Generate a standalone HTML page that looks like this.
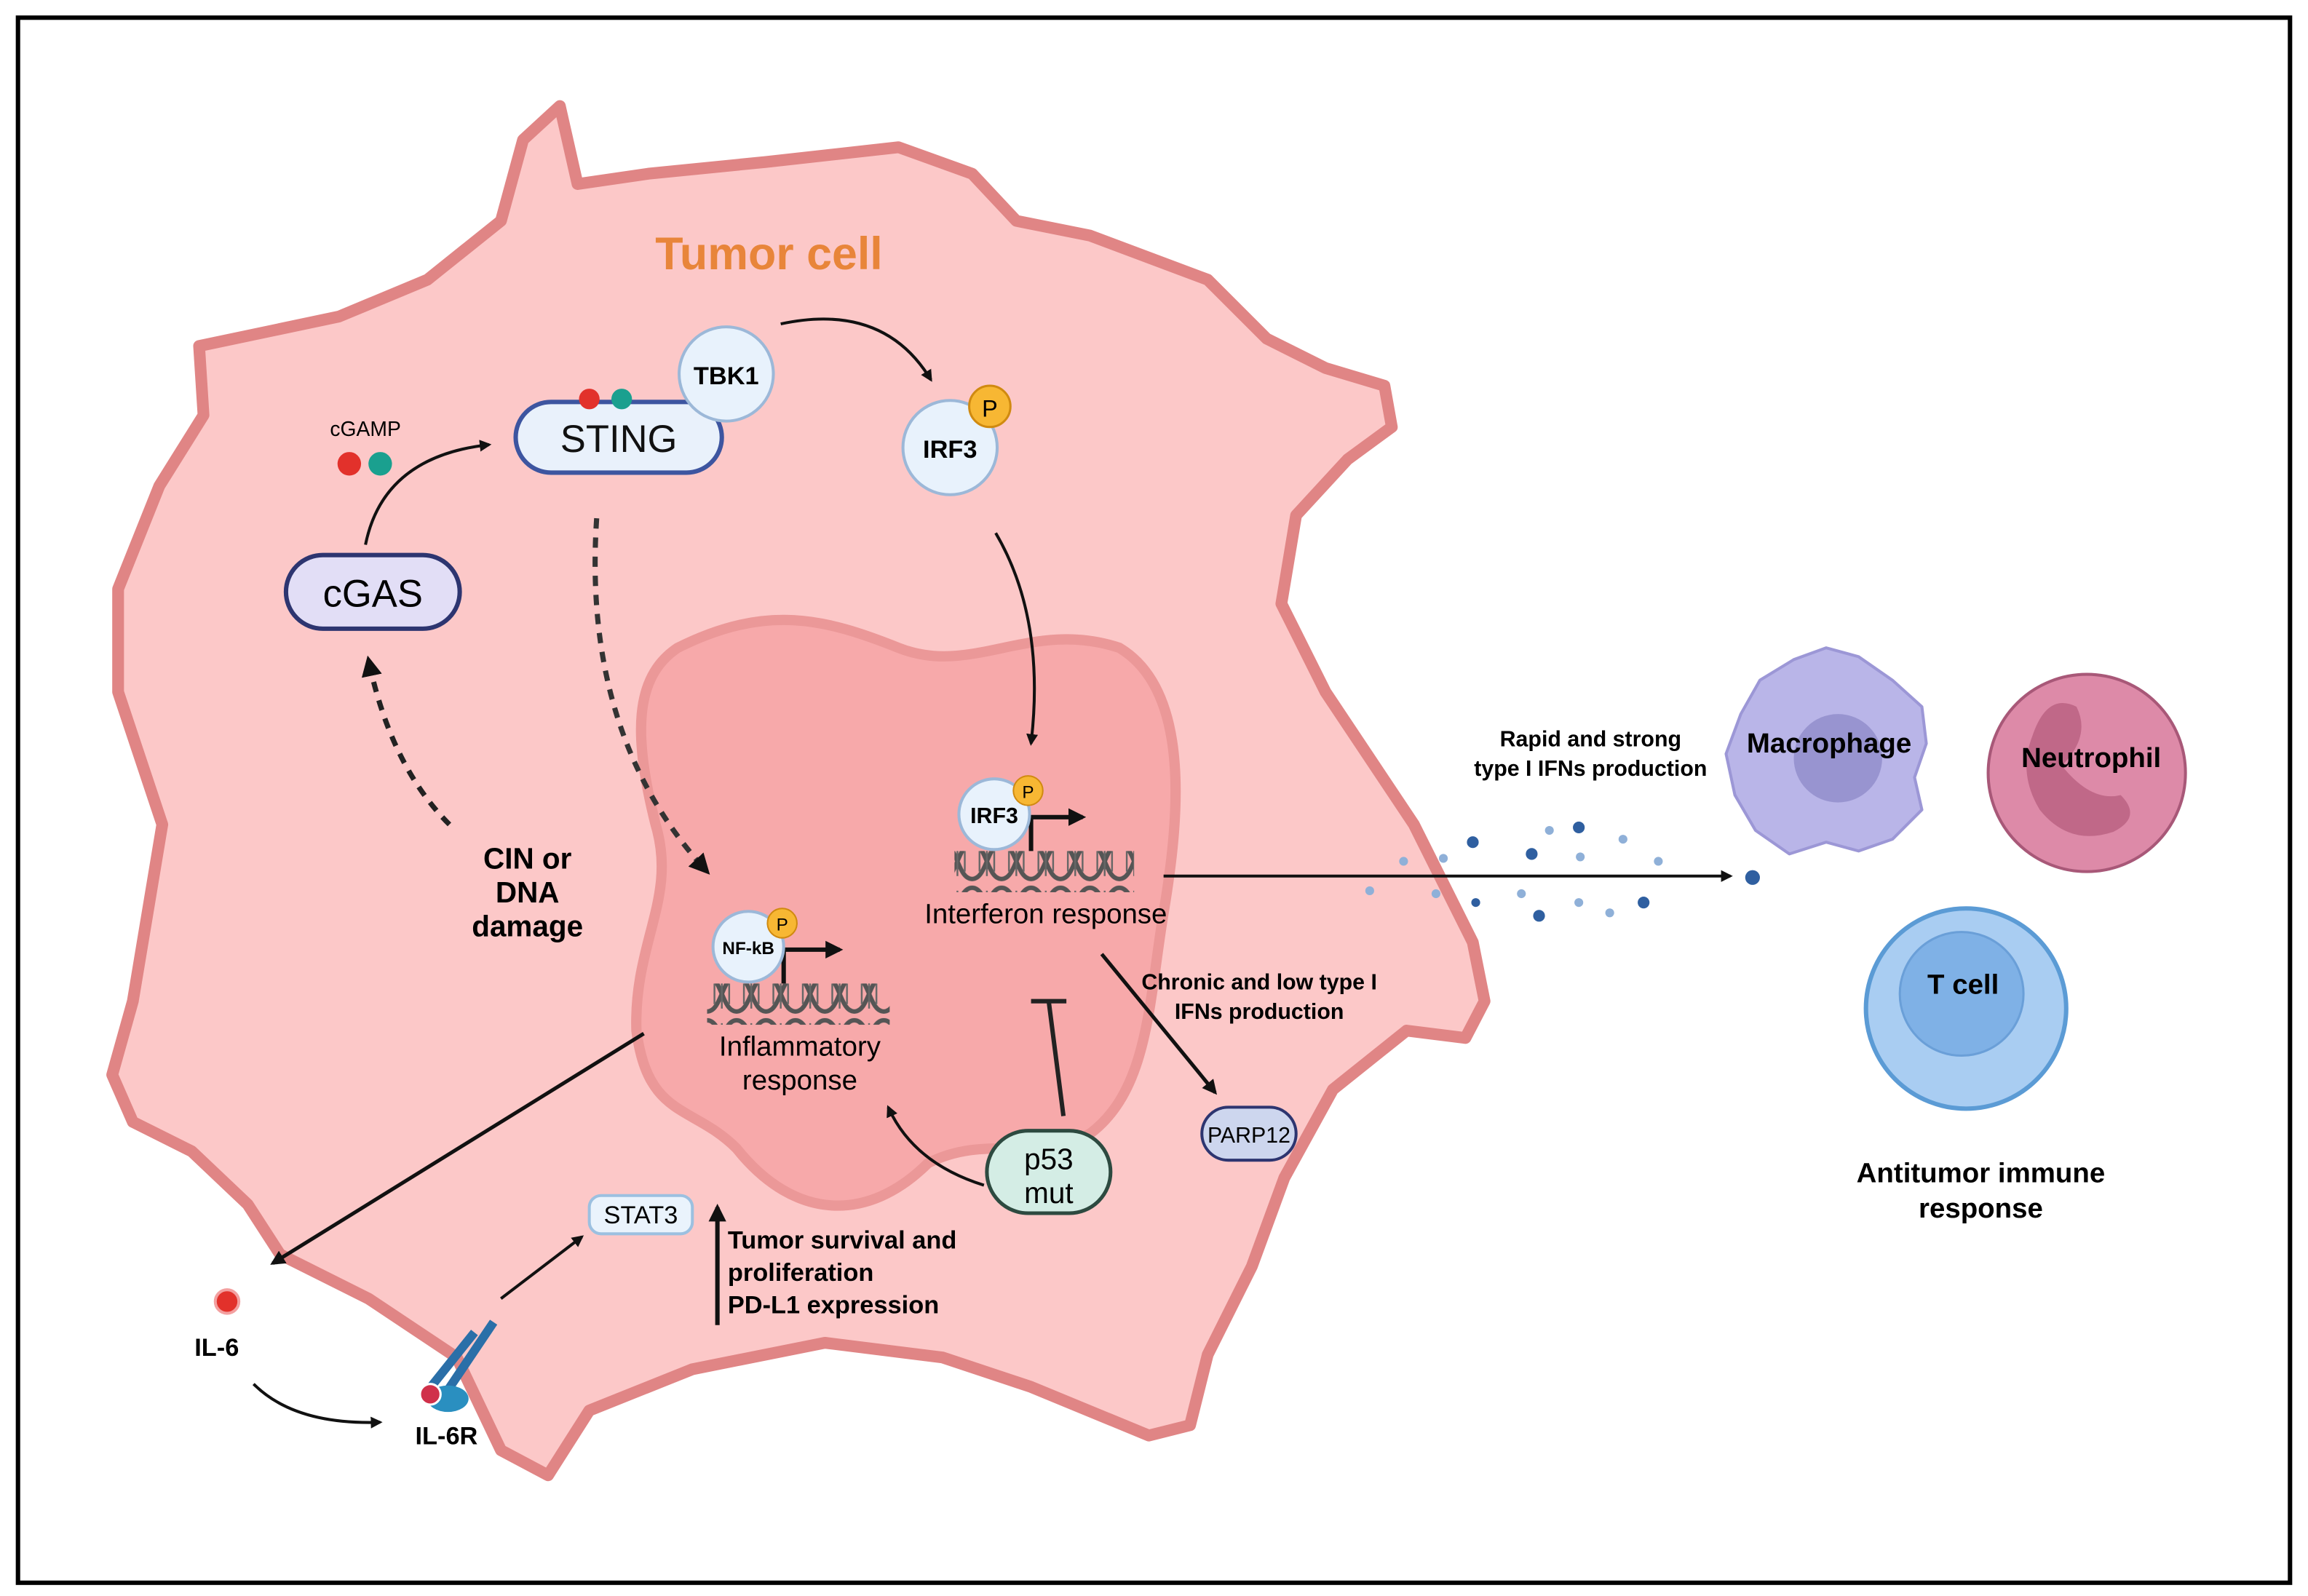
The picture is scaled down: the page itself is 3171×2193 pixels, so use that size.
<!DOCTYPE html>
<html><head><meta charset="utf-8"><style>
html,body{margin:0;padding:0;background:#fff}
svg{display:block}
text{font-family:"Liberation Sans",sans-serif}
</style></head><body>
<svg width="3171" height="2193" viewBox="0 0 1567 1084" xmlns="http://www.w3.org/2000/svg">
<defs>
<marker id="ah" viewBox="0 0 10 10" refX="8" refY="5" markerWidth="4" markerHeight="4" orient="auto"><path d="M0,0L10,5L0,10z" fill="#111"/></marker>
<marker id="ah2" viewBox="0 0 10 10" refX="8" refY="5" markerWidth="6" markerHeight="6" orient="auto"><path d="M0,0L10,5L0,10z" fill="#111"/></marker>
<pattern id="dna" width="40" height="30" patternUnits="userSpaceOnUse"><path d="M0,3 C10,3 10,27 20,27 C30,27 30,3 40,3" fill="none" stroke="#555" stroke-width="3"/><path d="M0,27 C10,27 10,3 20,3 C30,3 30,27 40,27" fill="none" stroke="#555" stroke-width="3"/><path d="M5,8V22M10,5V25M15,8V22M25,8V22M30,5V25M35,8V22" stroke="#666" stroke-width="1.2"/></pattern>
</defs>
<rect x="0" y="0" width="1567" height="1084" fill="#fff"/>
<rect x="12" y="12" width="1543" height="1063" fill="none" stroke="#000" stroke-width="3"/>
<polygon points="135,235 230,215 290,190 340,150 355,95 380,72 392,125 440,118 520,110 610,100 660,118 690,150 740,160 820,190 860,230 900,250 940,262 945,290 915,312 880,350 870,410 900,470 960,560 1000,640 1008,680 995,705 955,700 905,740 872,800 850,860 820,920 808,968 780,975 700,942 640,922 560,912 470,930 400,958 372,1002 340,985 310,922 250,882 190,852 168,818 130,782 90,762 76,730 90,680 100,620 110,560 80,470 80,400 108,330 138,282" fill="#fcc8c8" stroke="#e08585" stroke-width="8" stroke-linejoin="round"/>
<path d="M460,440 C520,410 560,420 610,440 C660,460 700,420 760,440 C810,470 800,560 790,620 C780,680 780,740 740,770 C700,790 670,770 630,790 C590,830 540,830 500,780 C470,750 440,760 432,700 C430,640 460,610 445,560 C430,500 430,460 460,440 Z" fill="#f7a9aa" stroke="#eb9898" stroke-width="7"/>
<text x="522" y="183" font-size="31" font-weight="bold" fill="#e8853a" text-anchor="middle">Tumor cell</text>
<!-- STING -->
<rect x="350" y="273" width="140" height="48" rx="24" fill="#e9f1fb" stroke="#3d55a0" stroke-width="3"/>
<text x="420" y="307" font-size="26" text-anchor="middle" fill="#111">STING</text>
<circle cx="400" cy="271" r="7" fill="#e2312b"/><circle cx="422" cy="271" r="7" fill="#1aa08f"/>
<circle cx="493" cy="254" r="32" fill="#e8f2fc" stroke="#9cb8d8" stroke-width="2"/>
<text x="493" y="261" font-size="17" font-weight="bold" text-anchor="middle">TBK1</text>
<path d="M530,220 Q600,205 632,258" fill="none" stroke="#111" stroke-width="2" marker-end="url(#ah)"/>
<circle cx="645" cy="304" r="32" fill="#e8f2fc" stroke="#9cb8d8" stroke-width="2"/>
<text x="645" y="311" font-size="17" font-weight="bold" text-anchor="middle">IRF3</text>
<circle cx="672" cy="276" r="14" fill="#f7b733" stroke="#d08a10" stroke-width="1.5"/>
<text x="672" y="283" font-size="16" text-anchor="middle">P</text>
<path d="M676,362 Q710,420 700,505" fill="none" stroke="#111" stroke-width="2" marker-end="url(#ah)"/>
<!-- cGAS -->
<text x="248" y="296" font-size="14" text-anchor="middle">cGAMP</text>
<circle cx="237" cy="315" r="8" fill="#e2312b"/><circle cx="258" cy="315" r="8" fill="#1aa08f"/>
<rect x="194" y="377" width="118" height="50" rx="25" fill="#e2def6" stroke="#2d3570" stroke-width="3"/>
<text x="253" y="412" font-size="26" text-anchor="middle">cGAS</text>
<path d="M248,370 Q260,310 332,302" fill="none" stroke="#111" stroke-width="2" marker-end="url(#ah)"/>
<path d="M305,560 Q265,520 250,448" fill="none" stroke="#222" stroke-width="3.5" stroke-dasharray="7,6" marker-end="url(#ah)"/>
<text x="358" y="590" font-size="20" font-weight="bold" text-anchor="middle">CIN or</text>
<text x="358" y="613" font-size="20" font-weight="bold" text-anchor="middle">DNA</text>
<text x="358" y="636" font-size="20" font-weight="bold" text-anchor="middle">damage</text>
<path d="M405,352 Q395,500 480,592" fill="none" stroke="#333" stroke-width="3.5" stroke-dasharray="7,6" marker-end="url(#ah)"/>
<!-- IRF3 nucleus -->
<rect x="648" y="578" width="122" height="28" fill="url(#dna)"/>
<path d="M700,578V555H735" fill="none" stroke="#111" stroke-width="3" marker-end="url(#ah)"/>
<circle cx="675" cy="553" r="24" fill="#e8f2fc" stroke="#9cb8d8" stroke-width="2"/>
<text x="675" y="559" font-size="15" font-weight="bold" text-anchor="middle">IRF3</text>
<circle cx="698" cy="537" r="10" fill="#f7b733" stroke="#d08a10"/>
<text x="698" y="542" font-size="12" text-anchor="middle">P</text>
<text x="710" y="627" font-size="19" text-anchor="middle">Interferon response</text>
<!-- NF-kB -->
<rect x="480" y="668" width="124" height="28" fill="url(#dna)"/>
<path d="M532,668V645H570" fill="none" stroke="#111" stroke-width="3" marker-end="url(#ah)"/>
<circle cx="508" cy="643" r="24" fill="#e8f2fc" stroke="#9cb8d8" stroke-width="2"/>
<text x="508" y="648" font-size="12" font-weight="bold" text-anchor="middle">NF-kB</text>
<circle cx="531" cy="627" r="10" fill="#f7b733" stroke="#d08a10"/>
<text x="531" y="632" font-size="12" text-anchor="middle">P</text>
<text x="543" y="717" font-size="19" text-anchor="middle">Inflammatory</text>
<text x="543" y="740" font-size="19" text-anchor="middle">response</text>
<!-- p53 -->
<rect x="670" y="768" width="84" height="56" rx="28" fill="#d4ede5" stroke="#2d4a40" stroke-width="2.5"/>
<text x="712" y="794" font-size="20" text-anchor="middle">p53</text>
<text x="712" y="817" font-size="20" text-anchor="middle">mut</text>
<path d="M722,758L712,680M700,680H724" fill="none" stroke="#222" stroke-width="3"/>
<path d="M668,805 Q620,790 603,752" fill="none" stroke="#111" stroke-width="2" marker-end="url(#ah)"/>
<path d="M748,648L825,742" fill="none" stroke="#111" stroke-width="2.5" marker-end="url(#ah)"/>
<text x="855" y="672" font-size="15" font-weight="bold" text-anchor="middle">Chronic and low type I</text>
<text x="855" y="692" font-size="15" font-weight="bold" text-anchor="middle">IFNs production</text>
<rect x="816" y="752" width="64" height="36" rx="18" fill="#cdd6ee" stroke="#2d3570" stroke-width="2"/>
<text x="848" y="776" font-size="15" text-anchor="middle">PARP12</text>
<!-- STAT3 / IL-6 -->
<rect x="400" y="812" width="70" height="26" rx="8" fill="#eaf3fc" stroke="#9cc0e0" stroke-width="2"/>
<text x="435" y="831" font-size="17" text-anchor="middle">STAT3</text>
<path d="M487,900V820" fill="none" stroke="#111" stroke-width="3" marker-end="url(#ah)"/>
<text x="494" y="848" font-size="17" font-weight="bold">Tumor survival and</text>
<text x="494" y="870" font-size="17" font-weight="bold">proliferation</text>
<text x="494" y="892" font-size="17" font-weight="bold">PD-L1 expression</text>
<path d="M437,702L185,858" fill="none" stroke="#111" stroke-width="2.5" marker-end="url(#ah)"/>
<circle cx="154" cy="884" r="8" fill="#e2312b" stroke="#f3a0a0" stroke-width="2"/>
<text x="147" y="921" font-size="17" font-weight="bold" text-anchor="middle">IL-6</text>
<path d="M172,940 Q200,968 258,966" fill="none" stroke="#111" stroke-width="2" marker-end="url(#ah)"/>
<path d="M290,945L322,905M300,950L335,898" stroke="#2a6fa8" stroke-width="6"/>
<ellipse cx="304" cy="950" rx="14" ry="9" fill="#2a8fc0"/>
<circle cx="292" cy="947" r="7" fill="#d0304a" stroke="#fff" stroke-width="1.5"/>
<text x="303" y="981" font-size="17" font-weight="bold" text-anchor="middle">IL-6R</text>
<path d="M340,882L395,840" fill="none" stroke="#111" stroke-width="2" marker-end="url(#ah)"/>
<!-- IFN release -->
<path d="M790,595H1175" fill="none" stroke="#111" stroke-width="2" marker-end="url(#ah)"/>
<g fill="#2f5fa0">
<circle cx="1000" cy="572" r="4"/><circle cx="1040" cy="580" r="4"/><circle cx="1072" cy="562" r="4"/><circle cx="1045" cy="622" r="4"/><circle cx="1116" cy="613" r="4"/><circle cx="1190" cy="596" r="5"/><circle cx="1002" cy="613" r="3"/>
</g>
<g fill="#8fb0d8">
<circle cx="930" cy="605" r="3"/><circle cx="953" cy="585" r="3"/><circle cx="975" cy="607" r="3"/><circle cx="980" cy="583" r="3"/><circle cx="1052" cy="564" r="3"/><circle cx="1073" cy="582" r="3"/><circle cx="1033" cy="607" r="3"/><circle cx="1072" cy="613" r="3"/><circle cx="1102" cy="570" r="3"/><circle cx="1126" cy="585" r="3"/><circle cx="1093" cy="620" r="3"/>
</g>
<text x="1080" y="507" font-size="15" font-weight="bold" text-anchor="middle">Rapid and strong</text>
<text x="1080" y="527" font-size="15" font-weight="bold" text-anchor="middle">type I IFNs production</text>
<!-- immune cells -->
<polygon points="1240,440 1262,446 1285,462 1305,480 1308,505 1300,528 1305,550 1285,570 1262,578 1240,572 1215,580 1192,564 1178,540 1172,512 1182,485 1195,462 1218,448" fill="#b9b5e8" stroke="#9c97d6" stroke-width="2" stroke-linejoin="round"/>
<circle cx="1248" cy="515" r="30" fill="#9894d0"/>
<text x="1242" y="511" font-size="19" font-weight="bold" text-anchor="middle">Macrophage</text>
<circle cx="1417" cy="525" r="67" fill="#dd8aa8" stroke="#a85878" stroke-width="2"/>
<path d="M1380,500 Q1390,470 1410,480 Q1420,500 1400,520 Q1420,545 1440,540 Q1455,555 1435,565 Q1405,575 1385,550 Q1370,525 1380,500Z" fill="#c06888"/>
<text x="1420" y="521" font-size="19" font-weight="bold" text-anchor="middle">Neutrophil</text>
<circle cx="1335" cy="685" r="68" fill="#a9cdf2" stroke="#5b9bd5" stroke-width="3"/>
<circle cx="1332" cy="675" r="42" fill="#7fb1e6" stroke="#6a9fd8" stroke-width="1.5"/>
<text x="1333" y="675" font-size="19" font-weight="bold" text-anchor="middle">T cell</text>
<text x="1345" y="803" font-size="19" font-weight="bold" text-anchor="middle">Antitumor immune</text>
<text x="1345" y="827" font-size="19" font-weight="bold" text-anchor="middle">response</text>
</svg>
</body></html>
